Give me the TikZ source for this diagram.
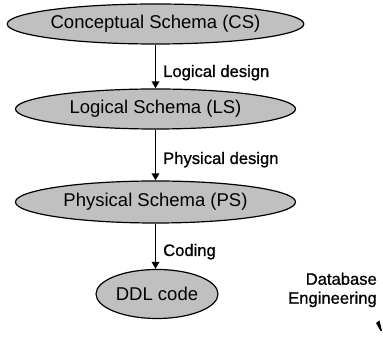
\documentclass[tikz,border=0pt]{standalone}
\usepackage{fontspec}
\setmainfont{Liberation Sans}
\newfontfamily\steplabelfont[FakeBold=0.9]{Liberation Sans}
\usetikzlibrary{shapes.geometric,arrows.meta}

\begin{document}
\begin{tikzpicture}[x=1pt,y=1pt,
  schema/.style={ellipse, draw=black, line width=1.2pt, fill=schemagrey,
    inner sep=0pt, font=\fontsize{18.5}{22}\selectfont},
  flow/.style={line width=1.7pt, -{Triangle[length=7pt,width=7.5pt]}},
  steplabel/.style={anchor=base west, inner sep=0pt,
    font=\steplabelfont\fontsize{16.6}{19}\selectfont}]
\definecolor{schemagrey}{RGB}{192,192,192}
\useasboundingbox (0,0) rectangle (383,339);

% the four schema levels
\node[schema, minimum width=281pt, minimum height=40pt] (cs) at (155.5,315) {Conceptual Schema (CS)};
\node[schema, minimum width=280pt, minimum height=40pt] (ls) at (155.5,230) {Logical Schema (LS)};
\node[schema, minimum width=280pt, minimum height=42pt] (ps) at (155.5,137) {Physical Schema (PS)};
\node[schema, minimum width=122pt, minimum height=49pt] (ddl) at (157,45) {DDL code};

% transformations between levels
\draw[flow] (cs.south) -- (ls.north);
\draw[flow] (ls.south) -- (ps.north);
\draw[flow] (ps.south) -- (ps.south |- ddl.north);

\node[steplabel] (l1) at (163,262) {Logical design};
\node[steplabel] (l2) at (163,175) {Physical design};
\node[steplabel] (l3) at (163,83) {Coding};

% side caption
\node[anchor=north east, align=right, inner sep=0pt,
  font=\steplabelfont\fontsize{16.6}{19}\selectfont] (eng) at (377,66.5) {Database\\Engineering};

% clipped arrow tip at the corner
\fill[black] (376,16) -- (379.5,18.5) -- (382,8) -- (380.5,8) -- cycle;
\end{tikzpicture}
\end{document}
